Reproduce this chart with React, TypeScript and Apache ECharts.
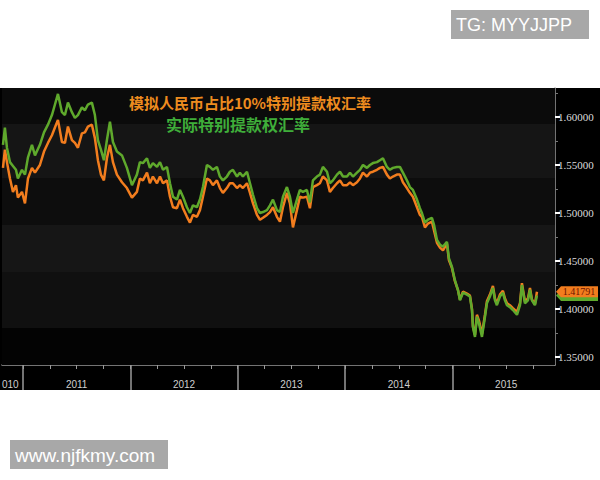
import React, { useEffect, useRef } from "react";
import * as echarts from "echarts";

// Decimal-year positions of the sampled points
const years = [
  2010.814, 2010.832, 2010.851, 2010.879, 2010.907, 2010.935, 2010.953, 2010.991, 2011.019, 2011.047,
  2011.084, 2011.112, 2011.158, 2011.196, 2011.233, 2011.270, 2011.298, 2011.326, 2011.363, 2011.391,
  2011.419, 2011.456, 2011.484, 2011.512, 2011.549, 2011.577, 2011.605, 2011.642, 2011.670, 2011.698,
  2011.726, 2011.754, 2011.782, 2011.810, 2011.838, 2011.875, 2011.922, 2011.968, 2012.015, 2012.061,
  2012.089, 2012.117, 2012.155, 2012.182, 2012.210, 2012.248, 2012.276, 2012.304, 2012.341, 2012.369,
  2012.397, 2012.434, 2012.462, 2012.490, 2012.527, 2012.555, 2012.583, 2012.620, 2012.648, 2012.676,
  2012.713, 2012.741, 2012.769, 2012.806, 2012.834, 2012.862, 2012.899, 2012.927, 2012.955, 2012.993,
  2013.020, 2013.048, 2013.086, 2013.114, 2013.142, 2013.179, 2013.207, 2013.235, 2013.272, 2013.300,
  2013.328, 2013.365, 2013.393, 2013.421, 2013.458, 2013.486, 2013.514, 2013.551, 2013.579, 2013.607,
  2013.644, 2013.672, 2013.700, 2013.737, 2013.765, 2013.793, 2013.831, 2013.858, 2013.886, 2013.924,
  2013.952, 2013.980, 2014.017, 2014.045, 2014.073, 2014.110, 2014.138, 2014.166, 2014.203, 2014.231,
  2014.259, 2014.296, 2014.324, 2014.352, 2014.389, 2014.417, 2014.445, 2014.482, 2014.510, 2014.538,
  2014.575, 2014.603, 2014.631, 2014.669, 2014.696, 2014.715, 2014.743, 2014.771, 2014.808, 2014.827,
  2014.855, 2014.883, 2014.911, 2014.948, 2014.966, 2014.994, 2015.022, 2015.050, 2015.069, 2015.097,
  2015.134, 2015.162, 2015.181, 2015.190, 2015.209, 2015.227, 2015.246, 2015.274, 2015.302, 2015.320,
  2015.348, 2015.376, 2015.395, 2015.413, 2015.441, 2015.469, 2015.488, 2015.507, 2015.534, 2015.562,
  2015.600, 2015.628, 2015.646, 2015.674, 2015.702, 2015.721, 2015.739, 2015.767, 2015.786,
];

// 实际特别提款权汇率 (green)
const actualSDR = [
  1.571, 1.589, 1.568, 1.553, 1.549, 1.545, 1.536, 1.545, 1.540, 1.558,
  1.571, 1.560, 1.571, 1.584, 1.592, 1.602, 1.613, 1.624, 1.605, 1.602,
  1.615, 1.605, 1.599, 1.602, 1.610, 1.607, 1.613, 1.615, 1.602, 1.576,
  1.566, 1.555, 1.576, 1.595, 1.574, 1.564, 1.560, 1.547, 1.529, 1.540,
  1.553, 1.552, 1.557, 1.547, 1.552, 1.548, 1.553, 1.545, 1.548, 1.531,
  1.517, 1.514, 1.524, 1.517, 1.506, 1.500, 1.508, 1.506, 1.514, 1.527,
  1.550, 1.548, 1.545, 1.548, 1.538, 1.534, 1.538, 1.543, 1.545, 1.538,
  1.542, 1.538, 1.543, 1.531, 1.519, 1.505, 1.500, 1.501, 1.503, 1.508,
  1.514, 1.503, 1.501, 1.517, 1.527, 1.517, 1.500, 1.514, 1.524, 1.522,
  1.524, 1.511, 1.534, 1.538, 1.540, 1.548, 1.543, 1.531, 1.534, 1.540,
  1.543, 1.538, 1.538, 1.542, 1.538, 1.542, 1.545, 1.550, 1.547, 1.550,
  1.552, 1.553, 1.555, 1.557, 1.548, 1.545, 1.547, 1.548, 1.548, 1.542,
  1.534, 1.527, 1.524, 1.514, 1.505, 1.500, 1.490, 1.493, 1.495, 1.488,
  1.472, 1.467, 1.465, 1.470, 1.453, 1.444, 1.430, 1.420, 1.409, 1.417,
  1.415, 1.413, 1.399, 1.381, 1.371, 1.392, 1.385, 1.371, 1.392, 1.406,
  1.413, 1.422, 1.409, 1.404, 1.413, 1.417, 1.409, 1.404, 1.402, 1.399,
  1.394, 1.404, 1.425, 1.406, 1.409, 1.420, 1.409, 1.404, 1.414,
];

// 模拟人民币占比10%特别提款权汇率 (orange)
const simulatedSDR = [
  1.547, 1.566, 1.553, 1.536, 1.522, 1.529, 1.516, 1.522, 1.510, 1.536,
  1.547, 1.542, 1.550, 1.564, 1.573, 1.581, 1.589, 1.597, 1.574, 1.573,
  1.590, 1.576, 1.573, 1.568, 1.583, 1.584, 1.590, 1.592, 1.578, 1.555,
  1.540, 1.534, 1.557, 1.571, 1.553, 1.540, 1.532, 1.526, 1.516, 1.522,
  1.536, 1.534, 1.542, 1.531, 1.538, 1.531, 1.538, 1.531, 1.534, 1.517,
  1.506, 1.505, 1.514, 1.505, 1.496, 1.490, 1.498, 1.496, 1.503, 1.517,
  1.536, 1.534, 1.529, 1.534, 1.526, 1.521, 1.526, 1.531, 1.531, 1.526,
  1.529, 1.526, 1.531, 1.521, 1.510, 1.498, 1.493, 1.495, 1.498, 1.501,
  1.506, 1.496, 1.491, 1.506, 1.521, 1.510, 1.485, 1.503, 1.517, 1.516,
  1.517, 1.505, 1.527, 1.529, 1.531, 1.538, 1.534, 1.522, 1.526, 1.531,
  1.534, 1.529, 1.529, 1.532, 1.529, 1.532, 1.536, 1.542, 1.538, 1.542,
  1.543, 1.545, 1.547, 1.548, 1.540, 1.536, 1.538, 1.540, 1.540, 1.532,
  1.526, 1.521, 1.517, 1.506, 1.498, 1.496, 1.485, 1.489, 1.491, 1.482,
  1.469, 1.464, 1.461, 1.468, 1.451, 1.443, 1.429, 1.420, 1.410, 1.418,
  1.416, 1.414, 1.400, 1.382, 1.373, 1.394, 1.388, 1.374, 1.394, 1.408,
  1.415, 1.424, 1.411, 1.406, 1.415, 1.419, 1.411, 1.406, 1.404, 1.401,
  1.397, 1.406, 1.427, 1.408, 1.411, 1.422, 1.410, 1.405, 1.41791,
];

const titleSimulated = "模拟人民币占比10%特别提款权汇率";
const titleActual = "实际特别提款权汇率";

const yLabelValues = [1.35, 1.4, 1.45, 1.5, 1.55, 1.6];
const yMinorValues = [1.375, 1.425, 1.475, 1.525, 1.575, 1.625];
const yearTicks = [2011, 2012, 2013, 2014, 2015];
const quarterTicks = [
  2011, 2011.25, 2011.5, 2011.75, 2012, 2012.25, 2012.5, 2012.75,
  2013, 2013.25, 2013.5, 2013.75, 2014, 2014.25, 2014.5, 2014.75,
  2015, 2015.25, 2015.5, 2015.75,
];
const yearLabelPositions = [2011.5, 2012.5, 2013.5, 2014.5, 2015.5];
const clippedFirstYearLabel = "010"; // what remains visible of "2010" at the left edge

// shaded horizontal bands [from, to, colour]
const bands: [number, number, string][] = [
  [1.5927, 1.6302, "#0b0b0b"],
  [1.5365, 1.5927, "#151515"],
  [1.4875, 1.5365, "#0d0d0d"],
  [1.4385, 1.4875, "#161616"],
  [1.3802, 1.4385, "#101010"],
  [1.3417, 1.3802, "#030303"],
];

const X_MIN = 2010.805;
const X_MAX = 2015.954;
const Y_MIN = 1.3417;
const Y_MAX = 1.6302;

const ORANGE = "#f27d1e";
const GREEN = "#5fa92c";

export default function App() {
  const ref = useRef<HTMLDivElement>(null);

  useEffect(() => {
    if (!ref.current) return;
    const chart = echarts.init(ref.current, null, { renderer: "svg" });

    const axisGrey = "#9a9a9a";
    const option: any = {
      animation: false,
      backgroundColor: "#ffffff",
      grid: { left: 2, right: 45, top: 88, bottom: 115 },
      xAxis: [
        {
          type: "value",
          min: X_MIN,
          max: X_MAX,
          position: "bottom",
          axisLine: { show: true, lineStyle: { color: axisGrey, width: 1.5 } },
          axisTick: { show: true, customValues: quarterTicks, length: 4, lineStyle: { color: axisGrey } },
          splitLine: { show: false },
          axisLabel: {
            show: true,
            customValues: yearLabelPositions,
            formatter: (v: number) => String(Math.floor(v)),
            color: "#cfcfcf",
            fontSize: 10,
            fontFamily: "Liberation Sans",
            margin: 14,
          },
        },
        {
          type: "value",
          min: X_MIN,
          max: X_MAX,
          position: "bottom",
          axisLine: { show: false },
          axisTick: { show: true, customValues: yearTicks, length: 25, lineStyle: { color: axisGrey, width: 1.5 } },
          axisLabel: { show: false },
          splitLine: { show: false },
        },
      ],
      yAxis: [
        {
          type: "value",
          min: Y_MIN,
          max: Y_MAX,
          position: "right",
          axisLine: { show: true, lineStyle: { color: axisGrey, width: 1.5 } },
          axisTick: { show: true, customValues: yLabelValues, length: 5, lineStyle: { color: "#ffffff", width: 2 } },
          splitLine: { show: false },
          axisLabel: {
            show: true,
            customValues: yLabelValues,
            formatter: (v: number) => v.toFixed(5),
            color: "#dcdcdc",
            fontSize: 11,
            fontFamily: "Liberation Serif",
            margin: 3,
          },
        },
        {
          type: "value",
          min: Y_MIN,
          max: Y_MAX,
          position: "right",
          axisLine: { show: false },
          axisTick: { show: true, customValues: yMinorValues, length: 3, lineStyle: { color: "#777777" } },
          axisLabel: { show: false },
          splitLine: { show: false },
        },
      ],
      series: [
        {
          type: "line",
          data: [],
          z: 1,
          silent: true,
          markArea: {
            silent: true,
            data: bands.map(([a, b, c]) => [
              { yAxis: a, itemStyle: { color: c } },
              { yAxis: b },
            ]),
          },
        },
        {
          name: titleSimulated,
          type: "line",
          data: years.map((t, i) => [t, simulatedSDR[i]]),
          showSymbol: false,
          z: 3,
          lineStyle: { color: ORANGE, width: 2.5 },
        },
        {
          name: titleActual,
          type: "line",
          data: years.map((t, i) => [t, actualSDR[i]]),
          showSymbol: false,
          z: 4,
          lineStyle: { color: GREEN, width: 2.5 },
        },
      ],
    };
    chart.setOption(option);

    const lastO = simulatedSDR[simulatedSDR.length - 1];
    const lastG = actualSDR[actualSDR.length - 1];
    const yO = chart.convertToPixel({ yAxisIndex: 0 }, lastO) as number;
    const yG = chart.convertToPixel({ yAxisIndex: 0 }, lastG) as number;
    const xA = chart.convertToPixel({ xAxisIndex: 0 }, X_MAX) as number;
    const yTop = chart.convertToPixel({ yAxisIndex: 0 }, Y_MAX) as number;

    const tag = (y: number, fill: string) => ({
      type: "polygon",
      z: 50,
      shape: {
        points: [
          [xA + 1, y],
          [xA + 6, y - 5.5],
          [xA + 43, y - 5.5],
          [xA + 43, y + 5.5],
          [xA + 6, y + 5.5],
        ],
      },
      style: { fill },
    });

    chart.setOption({
      graphic: [
        {
          type: "rect",
          z: -10,
          shape: { x: 0, y: yTop, width: 600, height: 390 - yTop },
          style: { fill: "#000000" },
        },
        tag(yG, GREEN),
        tag(yO, ORANGE),
        {
          type: "text",
          z: 51,
          x: xA + 24,
          y: yO,
          style: {
            text: lastO.toFixed(5),
            fill: "#6a1400",
            fontSize: 10,
            fontFamily: "Liberation Serif",
            align: "center",
            verticalAlign: "middle",
          },
        },
        {
          type: "text",
          z: 20,
          x: 2,
          y: 384,
          style: {
            text: clippedFirstYearLabel,
            fill: "#cfcfcf",
            fontSize: 10,
            fontFamily: "Liberation Sans",
            align: "left",
            verticalAlign: "middle",
          },
        },
        {
          type: "text",
          z: 20,
          x: 250,
          y: 102,
          style: {
            text: titleSimulated,
            fill: "#ee8c1f",
            fontSize: 15,
            fontWeight: "bold",
            fontFamily: "Noto Sans CJK SC",
            align: "center",
            verticalAlign: "middle",
          },
        },
        {
          type: "text",
          z: 20,
          x: 238,
          y: 124,
          style: {
            text: titleActual,
            fill: "#3fae3a",
            fontSize: 16,
            fontWeight: "bold",
            fontFamily: "Noto Sans CJK SC",
            align: "center",
            verticalAlign: "middle",
          },
        },
        {
          type: "rect",
          z: 30,
          shape: { x: 451, y: 10, width: 138, height: 29 },
          style: { fill: "#a8a8a8" },
        },
        {
          type: "text",
          z: 31,
          x: 456,
          y: 25,
          style: {
            text: "TG: MYYJJPP",
            fill: "#ffffff",
            fontSize: 18,
            fontFamily: "Liberation Sans",
            align: "left",
            verticalAlign: "middle",
          },
        },
        {
          type: "rect",
          z: 30,
          shape: { x: 10, y: 440, width: 158, height: 29 },
          style: { fill: "#a8a8a8" },
        },
        {
          type: "text",
          z: 31,
          x: 15,
          y: 455,
          style: {
            text: "www.njfkmy.com",
            fill: "#ffffff",
            fontSize: 19,
            fontFamily: "Liberation Sans",
            align: "left",
            verticalAlign: "middle",
          },
        },
      ],
    });

    return () => chart.dispose();
  }, []);

  return (
    <div
      ref={ref}
      style={{ position: "fixed", left: 0, top: 0, width: 600, height: 480 }}
    />
  );
}
